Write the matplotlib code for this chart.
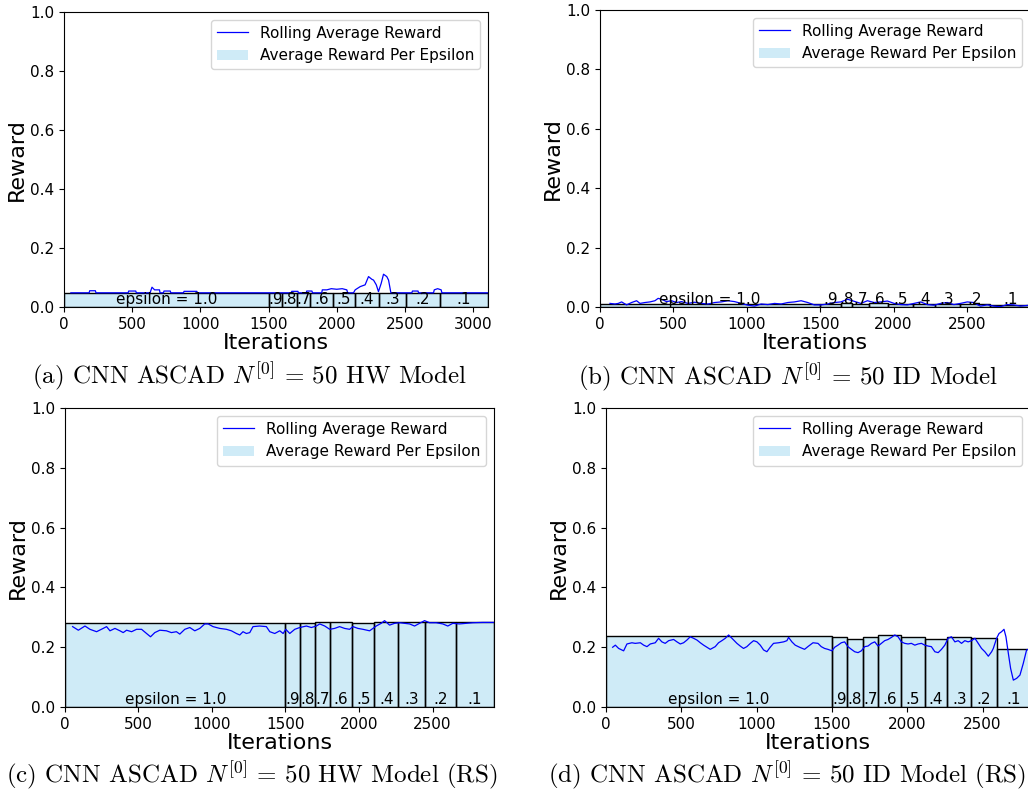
import matplotlib
matplotlib.use("Agg")
from matplotlib import pyplot as plt

plt.rcParams['mathtext.fontset'] = 'cm'

# epsilon period labels (same for every panel)
eps_labels = ['epsilon = 1.0', '.9', '.8', '.7', '.6', '.5', '.4', '.3', '.2', '.1']

# (a) HW model
a_edges = [0, 1500, 1600, 1705, 1805, 1970, 2135, 2310, 2510, 2755, 3110]
a_bars = [0.048, 0.048, 0.048, 0.048, 0.048, 0.048, 0.048, 0.048, 0.048, 0.048]
a_iter = [50, 184, 188, 230, 234, 470, 474, 526, 530, 631, 645, 660, 664, 700, 704,
          729, 733, 779, 783, 876, 880, 974, 978, 1666, 1670, 1715, 1719, 1776, 1780,
          1818, 1822, 1890, 1894, 1927, 1960, 2000, 2040, 2074, 2080, 2123, 2135, 2172,
          2208, 2233, 2257, 2270, 2290, 2306, 2326, 2343, 2367, 2380, 2397, 2551, 2555,
          2596, 2600, 2710, 2715, 2740, 2766, 2771, 3110]
a_reward = [0.048, 0.048, 0.055, 0.055, 0.048, 0.048, 0.054, 0.054, 0.048, 0.048, 0.067,
            0.060, 0.058, 0.058, 0.048, 0.048, 0.054, 0.054, 0.048, 0.048, 0.053, 0.053,
            0.048, 0.048, 0.053, 0.053, 0.048, 0.048, 0.054, 0.054, 0.048, 0.048, 0.058,
            0.058, 0.062, 0.060, 0.062, 0.058, 0.048, 0.048, 0.058, 0.069, 0.075, 0.103,
            0.094, 0.091, 0.075, 0.052, 0.080, 0.111, 0.103, 0.091, 0.048, 0.048, 0.054,
            0.054, 0.048, 0.048, 0.058, 0.062, 0.058, 0.048, 0.048]

# (b) ID model
b_edges = [0, 1500, 1640, 1720, 1830, 1960, 2130, 2280, 2450, 2660, 2930]
b_bars = [0.010, 0.010, 0.012, 0.011, 0.012, 0.009, 0.009, 0.010, 0.009, 0.005]
b_iter = [68, 102, 124, 147, 181, 215, 249, 272, 306, 340, 374, 396, 419, 453, 487, 521,
          555, 600, 645, 690, 736, 781, 826, 872, 917, 962, 1007, 1053, 1098, 1143, 1189,
          1234, 1279, 1324, 1370, 1415, 1460, 1506, 1551, 1596, 1641, 1687, 1732, 1777,
          1822, 1868, 1913, 1958, 2004, 2049, 2094, 2139, 2185, 2230, 2275, 2321, 2366,
          2411, 2456, 2502, 2547, 2570, 2592, 2638, 2683, 2728, 2773, 2819, 2864, 2930]
b_reward = [0.012, 0.010, 0.012, 0.017, 0.007, 0.015, 0.021, 0.012, 0.015, 0.017, 0.021,
            0.029, 0.026, 0.018, 0.021, 0.015, 0.018, 0.012, 0.016, 0.012, 0.010, 0.015,
            0.017, 0.021, 0.018, 0.012, 0.006, 0.003, 0.010, 0.008, 0.012, 0.010, 0.015,
            0.017, 0.021, 0.015, 0.007, 0.007, 0.010, 0.015, 0.017, 0.026, 0.019, 0.012,
            0.021, 0.015, 0.017, 0.020, 0.012, 0.008, 0.007, 0.012, 0.017, 0.008, 0.006,
            0.012, 0.015, 0.008, 0.012, 0.017, 0.015, 0.008, 0.003, 0.007, 0.003, 0.001,
            0.008, 0.007, 0.003, 0.006]

# (c) HW model (RS)
c_edges = [0, 1500, 1600, 1700, 1800, 1955, 2105, 2265, 2450, 2660, 2918]
c_bars = [0.280, 0.280, 0.280, 0.283, 0.285, 0.280, 0.285, 0.285, 0.286, 0.284]
c_iter = [52, 91, 136, 170, 215, 260, 283, 306, 340, 374, 396, 419, 453, 487, 521, 555,
          582, 611, 645, 690, 724, 758, 781, 815, 849, 883, 917, 951, 974, 1007, 1053,
          1098, 1132, 1166, 1189, 1211, 1234, 1257, 1279, 1324, 1370, 1393, 1427, 1461,
          1484, 1502, 1529, 1563, 1597, 1642, 1676, 1710, 1733, 1767, 1801, 1834, 1868,
          1902, 1936, 1959, 1993, 2027, 2072, 2095, 2117, 2151, 2174, 2208, 2242, 2276,
          2310, 2344, 2378, 2412, 2446, 2480, 2525, 2570, 2604, 2638, 2683, 2729, 2774,
          2842, 2918]
c_reward = [0.269, 0.257, 0.271, 0.260, 0.252, 0.263, 0.269, 0.255, 0.263, 0.255, 0.249,
            0.257, 0.252, 0.260, 0.260, 0.246, 0.235, 0.249, 0.257, 0.255, 0.249, 0.252,
            0.244, 0.260, 0.266, 0.255, 0.263, 0.278, 0.278, 0.269, 0.263, 0.260, 0.255,
            0.246, 0.241, 0.252, 0.246, 0.249, 0.269, 0.271, 0.269, 0.252, 0.246, 0.255,
            0.246, 0.260, 0.246, 0.260, 0.266, 0.271, 0.266, 0.271, 0.278, 0.271, 0.260,
            0.263, 0.269, 0.263, 0.260, 0.269, 0.263, 0.260, 0.255, 0.263, 0.271, 0.280,
            0.289, 0.274, 0.280, 0.282, 0.280, 0.278, 0.271, 0.280, 0.289, 0.282, 0.282,
            0.278, 0.271, 0.280, 0.278, 0.280, 0.282, 0.283, 0.283]

# (d) ID model (RS)
d_edges = [0, 1500, 1600, 1705, 1805, 1960, 2115, 2265, 2425, 2595, 2815]
d_bars = [0.237, 0.233, 0.229, 0.234, 0.240, 0.235, 0.226, 0.235, 0.230, 0.194]
d_iter = [44, 62, 84, 117, 139, 172, 194, 228, 250, 272, 294, 327, 349, 371, 393, 416,
          449, 471, 493, 515, 537, 559, 581, 604, 626, 648, 670, 692, 725, 747, 769, 792,
          814, 836, 869, 891, 913, 935, 958, 980, 1002, 1024, 1046, 1068, 1090, 1112,
          1146, 1179, 1201, 1212, 1234, 1256, 1285, 1318, 1340, 1374, 1407, 1429, 1451,
          1473, 1500, 1518, 1540, 1562, 1584, 1606, 1629, 1651, 1673, 1695, 1717, 1739,
          1762, 1784, 1806, 1828, 1850, 1872, 1895, 1917, 1939, 1961, 1983, 2005, 2027,
          2050, 2072, 2094, 2116, 2138, 2160, 2183, 2205, 2227, 2249, 2271, 2293, 2316,
          2338, 2360, 2382, 2404, 2427, 2449, 2471, 2493, 2515, 2538, 2560, 2571, 2582,
          2593, 2609, 2626, 2642, 2655, 2671, 2686, 2704, 2726, 2748, 2770, 2792, 2815]
d_reward = [0.200, 0.207, 0.196, 0.188, 0.211, 0.215, 0.213, 0.215, 0.207, 0.202, 0.211,
            0.215, 0.230, 0.218, 0.213, 0.222, 0.226, 0.218, 0.211, 0.215, 0.224, 0.235,
            0.230, 0.224, 0.215, 0.207, 0.200, 0.193, 0.202, 0.215, 0.222, 0.230, 0.241,
            0.230, 0.213, 0.204, 0.196, 0.202, 0.213, 0.222, 0.218, 0.207, 0.191, 0.185,
            0.200, 0.213, 0.215, 0.218, 0.222, 0.233, 0.218, 0.207, 0.200, 0.193, 0.202,
            0.215, 0.213, 0.202, 0.196, 0.193, 0.188, 0.200, 0.207, 0.215, 0.218, 0.202,
            0.193, 0.185, 0.182, 0.188, 0.202, 0.204, 0.213, 0.218, 0.204, 0.213, 0.222,
            0.226, 0.233, 0.241, 0.235, 0.218, 0.213, 0.211, 0.213, 0.207, 0.211, 0.213,
            0.207, 0.204, 0.202, 0.185, 0.182, 0.193, 0.207, 0.230, 0.235, 0.218, 0.222,
            0.213, 0.222, 0.218, 0.222, 0.230, 0.213, 0.196, 0.185, 0.170, 0.185, 0.196,
            0.213, 0.230, 0.246, 0.252, 0.260, 0.235, 0.179, 0.129, 0.090, 0.096, 0.107,
            0.146, 0.191, 0.195]

captions = [r'(a) CNN ASCAD $N^{[0]}$ = 50 HW Model',
            r'(b) CNN ASCAD $N^{[0]}$ = 50 ID Model',
            r'(c) CNN ASCAD $N^{[0]}$ = 50 HW Model (RS)',
            r'(d) CNN ASCAD $N^{[0]}$ = 50 ID Model (RS)']


def plot_panel(ax, edges, bars, iters, rewards):
    lefts = edges[:-1]
    widths = [edges[i + 1] - edges[i] for i in range(len(bars))]
    ax.bar(lefts, bars, width=widths, align='edge', color='skyblue', alpha=0.4,
           linewidth=0, label='Average Reward Per Epsilon')
    ax.bar(lefts, bars, width=widths, align='edge', fill=False,
           edgecolor='black', linewidth=1.0)
    ax.plot(iters, rewards, color='blue', linewidth=0.9, label='Rolling Average Reward')
    for i, lab in enumerate(eps_labels):
        ax.text(lefts[i] + widths[i] / 2, 0.025, lab, ha='center', va='center',
                fontsize=11)
    ax.set_xlim(edges[0], edges[-1])
    ax.set_ylim(0, 1.0)
    ax.set_yticks([0.0, 0.2, 0.4, 0.6, 0.8, 1.0])
    ax.tick_params(labelsize=11)
    ax.set_xlabel('Iterations', fontsize=16, labelpad=1)
    ax.set_ylabel('Reward', fontsize=16, labelpad=2)
    ax.legend(loc='upper right', fontsize=11)


fig = plt.figure(figsize=(10.28, 7.93), dpi=100)

ax_a = fig.add_axes([0.0623, 0.6129, 0.4125, 0.372])
plot_panel(ax_a, a_edges, a_bars, a_iter, a_reward)
ax_b = fig.add_axes([0.5837, 0.6129, 0.4183, 0.3745])
plot_panel(ax_b, b_edges, b_bars, b_iter, b_reward)
ax_c = fig.add_axes([0.0632, 0.1084, 0.4173, 0.377])
plot_panel(ax_c, c_edges, c_bars, c_iter, c_reward)
ax_d = fig.add_axes([0.5895, 0.1084, 0.4125, 0.377])
plot_panel(ax_d, d_edges, d_bars, d_iter, d_reward)

cap_pos = [(249, 376), (788, 377), (252, 775), (787, 775)]
for (px, py), cap in zip(cap_pos, captions):
    fig.text(px / 1028, 1 - py / 793, cap, ha='center', va='center',
             fontsize=18, family='cmr10')

plt.savefig('out.png', dpi=100)
plt.close()
